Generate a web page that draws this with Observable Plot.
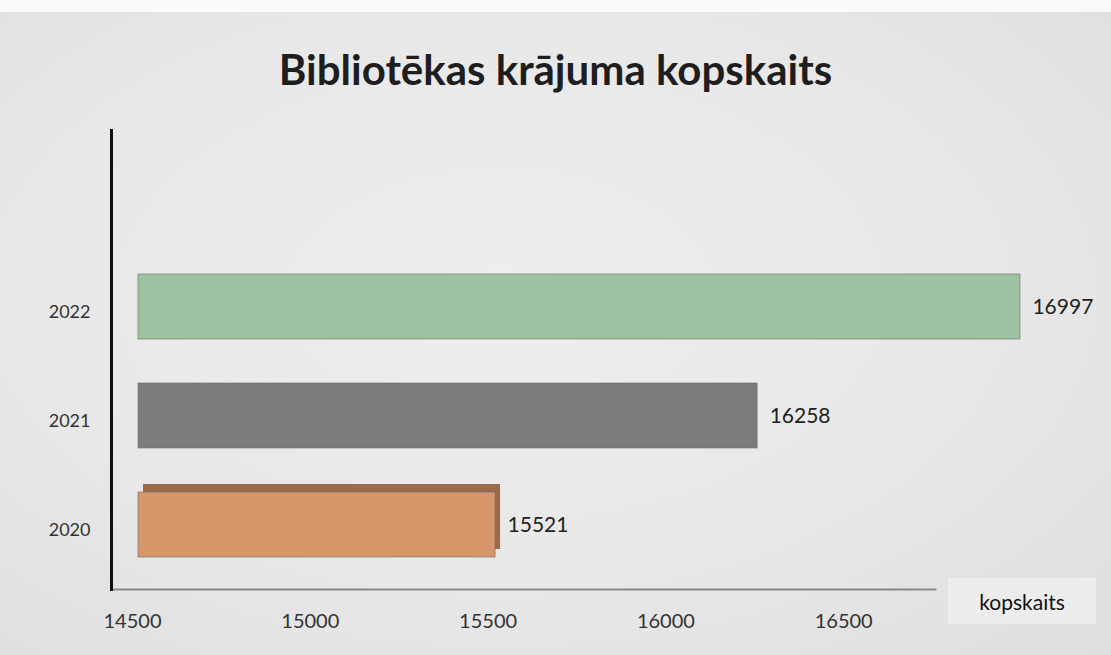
<!DOCTYPE html>
<html>
<head>
<meta charset="utf-8">
<script src="https://cdn.jsdelivr.net/npm/d3@7"></script>
<script src="https://cdn.jsdelivr.net/npm/@observablehq/plot@0.6"></script>
<style>
  html, body { margin: 0; padding: 0; }
  body {
    width: 1111px; height: 655px; overflow: hidden; position: relative;
    background: radial-gradient(ellipse at 45% 45%, #eeeeee 0%, #e8e8e8 55%, #dedede 100%);
    font-family: Lato, "Open Sans", sans-serif;
  }
  #paper-edge { position: absolute; left: 0; top: 0; width: 1111px; height: 12px; background: #fafafa; }
  #title {
    position: absolute; left: 0; top: 0; width: 1111px; height: 125px;
    display: flex; align-items: center; justify-content: center;
    font-family: Lato, sans-serif; font-weight: 700; font-size: 42px; color: #1e1e1e;
    padding-left: 0px; box-sizing: border-box; padding-top: 12px;
  }
  #chart { position: absolute; left: 0; top: 125px; }
  #xlabel {
    position: absolute; left: 948px; top: 578px; width: 148px; height: 46px;
    background: #ededed; display: flex; align-items: center; justify-content: center;
    font-family: Lato, sans-serif; font-size: 21px; color: #111;
  }
</style>
</head>
<body>
<div id="paper-edge"></div>
<div id="title">Bibliotēkas krājuma kopskaits</div>
<div id="chart"></div>
<div id="xlabel">kopskaits</div>
<script>
const years = ["2022", "2021", "2020"];
const values = [16997, 16258, 15521];
const colors = ["#9dc3a3", "#7c7c7c", "#d8966b"];
const sideColors = [null, null, "#9a6c4c"];
const xTicks = [14500, 15000, 15500, 16000, 16500];
const xDomain = [14500, 17000];

const data = years.map((y, i) => ({year: y, value: values[i], color: colors[i], side: sideColors[i]}));
const data3d = data.filter(d => d.side);

const chart = Plot.plot({
  width: 1111,
  height: 530,
  marginLeft: 111,
  marginRight: 176,
  marginTop: 5,
  marginBottom: 66,
  style: {background: "transparent", fontFamily: "Lato, 'Open Sans', sans-serif"},
  x: {domain: xDomain, range: [132, 1021], ticks: xTicks, label: null},
  y: {domain: years, range: [104, 478], padding: 0.4, label: null},
  marks: [
    Plot.gridX(xTicks.slice(1), {stroke: "#cfcfcf", strokeOpacity: 0.7, y1: 40, y2: 464}),
    Plot.barX(data3d, {
      x1: xDomain[0], x2: "value", y: "year",
      fill: "side", insetLeft: 6, dy: -8, dx: 5
    }),
    Plot.barX(data, {
      x1: xDomain[0], x2: "value", y: "year",
      fill: "color", stroke: "#6b6b6b", strokeWidth: 1, strokeOpacity: 0.6,
      insetLeft: 6
    }),
    Plot.text(data, {
      x: "value", y: "year", text: d => String(d.value),
      textAnchor: "start", dx: 12, fontSize: 21, fill: "#222"
    }),
    Plot.axisX({ticks: xTicks, tickSize: 0, tickPadding: 24, fontSize: 20, color: "#333", tickFormat: d => String(d), label: null}),
    Plot.axisY({tickSize: 0, tickPadding: 21, fontSize: 18, color: "#333", dy: 5, label: null}),
    Plot.frame({anchor: "bottom", stroke: "#8a8a8a", strokeWidth: 2}),
    Plot.frame({anchor: "left", stroke: "#111", strokeWidth: 3})
  ]
});
document.getElementById("chart").appendChild(chart);
</script>
</body>
</html>
